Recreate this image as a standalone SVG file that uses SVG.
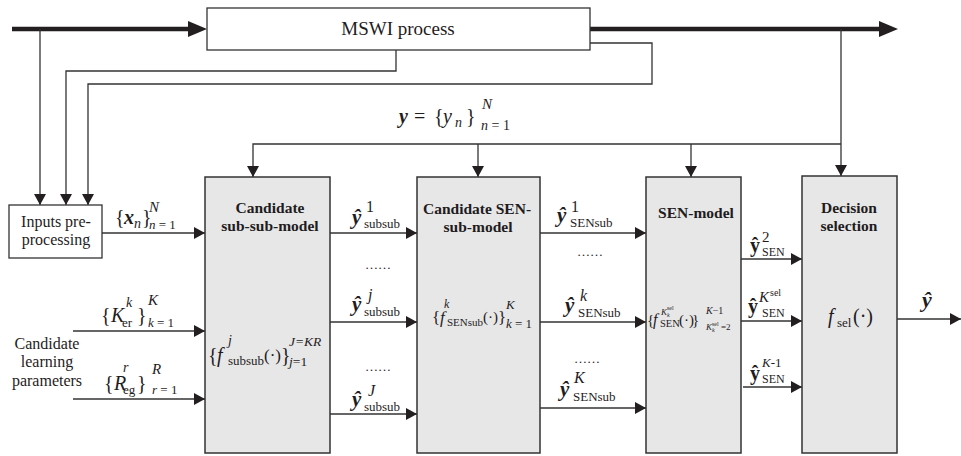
<svg xmlns="http://www.w3.org/2000/svg" width="961" height="456" viewBox="0 0 961 456">
<style>
text{font-family:Liberation Serif,Tinos,Times New Roman,DejaVu Serif,serif;fill:#1f1c1d}
.b{font-weight:bold}
.i{font-style:italic}
.bi{font-weight:bold;font-style:italic}
.ln{fill:none;stroke:#333;stroke-width:1.3}
.thk{fill:none;stroke:#231f20;stroke-width:4.5}
.wbox{fill:#fff;stroke:#333;stroke-width:1.3}
.gbox{fill:#e7e7e8;stroke:#333;stroke-width:1.5}
.ah{fill:#231f20}
</style>
<defs>
<marker id="a" viewBox="0 0 11 12" refX="11" refY="6" markerWidth="11" markerHeight="12" markerUnits="userSpaceOnUse" orient="auto">
<path d="M0,0 L11,6 L0,12 z" fill="#231f20"/>
</marker>
</defs>

<g id="connectors">
<path class="thk" d="M12,29 H192"/>
<polygon class="ah" points="188,21 207,29 188,37"/>
<path class="thk" d="M590,29 H882"/>
<polygon class="ah" points="879,21 898,29 879,37"/>
<path class="ln" d="M40,29 V205" marker-end="url(#a)"/>
<path class="ln" d="M396,50 V71 H66 V205" marker-end="url(#a)"/>
<path class="ln" d="M590,43 H652 V84 H88 V205" marker-end="url(#a)"/>
<path class="ln" d="M841,29 V176" marker-end="url(#a)"/>
<path class="ln" d="M841,144 H253 V177" marker-end="url(#a)"/>
<path class="ln" d="M478,144 V177" marker-end="url(#a)"/>
<path class="ln" d="M691,144 V177" marker-end="url(#a)"/>
<path class="ln" d="M102,233 H205" marker-end="url(#a)"/>
<path class="ln" d="M73,331 H205" marker-end="url(#a)"/>
<path class="ln" d="M73,399 H205" marker-end="url(#a)"/>
<path class="ln" d="M330,233 H417" marker-end="url(#a)"/>
<path class="ln" d="M330,322 H417" marker-end="url(#a)"/>
<path class="ln" d="M330,414 H417" marker-end="url(#a)"/>
<path class="ln" d="M540,233 H646" marker-end="url(#a)"/>
<path class="ln" d="M540,322 H646" marker-end="url(#a)"/>
<path class="ln" d="M540,408 H646" marker-end="url(#a)"/>
<path class="ln" d="M741,259 H802" marker-end="url(#a)"/>
<path class="ln" d="M741,321 H802" marker-end="url(#a)"/>
<path class="ln" d="M743,387 H802" marker-end="url(#a)"/>
<path class="ln" d="M897,319 H961" marker-end="url(#a)"/>
</g>

<g id="mswi">
<rect class="wbox" x="207" y="8" width="383" height="42"/>
<text x="398" y="35" font-size="19" text-anchor="middle">MSWI process</text>
</g>

<g id="inputs">
<rect class="wbox" x="9" y="205" width="93" height="53"/>
<text font-size="16" text-anchor="middle"><tspan x="56" y="227">Inputs pre-</tspan><tspan x="56" y="245">processing</tspan></text>
</g>

<g id="params">
<text font-size="16" text-anchor="middle"><tspan x="47" y="349">Candidate</tspan><tspan x="47" y="367">learning</tspan><tspan x="47" y="386">parameters</tspan></text>
</g>

<g id="subsub">
<rect class="gbox" x="205" y="177" width="125" height="276"/>
<text class="b" font-size="15.5" text-anchor="middle"><tspan x="270" y="213">Candidate</tspan><tspan x="270" y="231">sub-sub-model</tspan></text>
<text font-size="20"><tspan x="208" y="362">{</tspan><tspan x="217" y="362" class="i">f</tspan><tspan x="228" y="345" class="i" font-size="14">j</tspan><tspan x="228" y="365" font-size="13">subsub</tspan><tspan x="264" y="361" font-size="17">(·)</tspan><tspan x="281" y="362">}</tspan><tspan x="289" y="346" class="i" font-size="13.5">J=KR</tspan><tspan x="289" y="366" font-size="13.5"><tspan class="i">j</tspan>=1</tspan></text>
</g>

<g id="sensub">
<rect class="gbox" x="417" y="177" width="123" height="276"/>
<text class="b" font-size="15.5" text-anchor="middle"><tspan x="477" y="214">Candidate SEN-</tspan><tspan x="478" y="232">sub-model</tspan></text>
<text font-size="17"><tspan x="432" y="323">{</tspan><tspan x="440" y="323" class="i">f</tspan><tspan x="444" y="308" class="i" font-size="12">k</tspan><tspan x="447" y="326" font-size="11">SENsub</tspan><tspan x="483" y="322" font-size="15">(·)</tspan><tspan x="498" y="323">}</tspan><tspan x="506" y="309" class="i" font-size="13">K</tspan><tspan x="506" y="328" font-size="13"><tspan class="i">k</tspan> = 1</tspan></text>
</g>

<g id="senmodel">
<rect class="gbox" x="646" y="177" width="95" height="276"/>
<text class="b" font-size="15.5" x="696" y="218" text-anchor="middle">SEN-model</text>
<text font-size="15"><tspan x="647" y="325">{</tspan><tspan x="653" y="325" class="i" font-size="16">f</tspan><tspan x="661" y="315" class="i" font-size="9">K</tspan><tspan x="667" y="317" class="i" font-size="6">k</tspan><tspan x="667" y="310" font-size="6">sel</tspan><tspan x="660" y="327" font-size="10.5">SEN</tspan><tspan x="679" y="325">(·)</tspan><tspan x="692" y="325">}</tspan><tspan x="706" y="314" class="i" font-size="10">K</tspan><tspan font-size="10">−1</tspan><tspan x="706" y="330" class="i" font-size="9">K</tspan><tspan x="712" y="332" class="i" font-size="6">k</tspan><tspan x="712" y="326" font-size="6">sel</tspan><tspan x="721" y="330" font-size="9">=2</tspan></text>
</g>

<g id="decision">
<rect class="gbox" x="802" y="176" width="95" height="277"/>
<text class="b" font-size="15.5" text-anchor="middle"><tspan x="849" y="213">Decision</tspan><tspan x="849" y="231">selection</tspan></text>
<text font-size="20"><tspan x="828" y="323" class="i">f</tspan><tspan x="837" y="327" font-size="13">sel</tspan><tspan x="853" y="323">(·)</tspan></text>
</g>

<g id="labels">
<text font-size="20"><tspan x="399" y="123" class="bi">y</tspan><tspan x="414" y="123">=</tspan><tspan x="434" y="123">{</tspan><tspan x="443" y="123" class="i">y</tspan><tspan x="455" y="127" class="i" font-size="14">n</tspan><tspan x="466" y="123">}</tspan><tspan x="482" y="109" class="i" font-size="15">N</tspan><tspan x="481" y="130" font-size="14"><tspan class="i">n</tspan> = 1</tspan></text>

<text font-size="20"><tspan x="115" y="224">{</tspan><tspan x="124" y="224" class="bi">x</tspan><tspan x="134" y="228" class="i" font-size="14">n</tspan><tspan x="142" y="224">}</tspan><tspan x="149" y="212" class="i" font-size="15">N</tspan><tspan x="149" y="229" font-size="13"><tspan class="i">n</tspan> = 1</tspan></text>

<text font-size="20"><tspan x="101" y="322">{</tspan><tspan x="111" y="322" class="i">K</tspan><tspan x="126" y="307" class="i" font-size="14">k</tspan><tspan x="122" y="327" font-size="13">er</tspan><tspan x="137" y="322">}</tspan><tspan x="148" y="305" class="i" font-size="15">K</tspan><tspan x="148" y="327" font-size="13"><tspan class="i">k</tspan> = 1</tspan></text>

<text font-size="20"><tspan x="104" y="390">{</tspan><tspan x="114" y="390" class="i">R</tspan><tspan x="123" y="372" class="i" font-size="14">r</tspan><tspan x="123" y="394" font-size="13">eg</tspan><tspan x="137" y="390">}</tspan><tspan x="152" y="374" class="i" font-size="15">R</tspan><tspan x="152" y="394" font-size="13"><tspan class="i">r</tspan> = 1</tspan></text>

<text font-size="21"><tspan x="352" y="224" class="bi">ŷ</tspan><tspan x="366" y="212" font-size="16">1</tspan><tspan x="364" y="228" font-size="13">subsub</tspan></text>
<text font-size="13" x="365" y="269">……</text>
<text font-size="21"><tspan x="352" y="311" class="bi">ŷ</tspan><tspan x="368" y="300" class="i" font-size="16">j</tspan><tspan x="364" y="316" font-size="13">subsub</tspan></text>
<text font-size="13" x="365" y="371">……</text>
<text font-size="21"><tspan x="352" y="406" class="bi">ŷ</tspan><tspan x="368" y="396" class="i" font-size="16">J</tspan><tspan x="364" y="411" font-size="13">subsub</tspan></text>

<text font-size="21"><tspan x="557" y="222" class="bi">ŷ</tspan><tspan x="571" y="212" font-size="16">1</tspan><tspan x="570" y="227" font-size="13">SENsub</tspan></text>
<text font-size="13" x="577" y="256">……</text>
<text font-size="21"><tspan x="565" y="312" class="bi">ŷ</tspan><tspan x="580" y="301" class="i" font-size="16">k</tspan><tspan x="578" y="317" font-size="13">SENsub</tspan></text>
<text font-size="13" x="574" y="363">……</text>
<text font-size="21"><tspan x="560" y="396" class="bi">ŷ</tspan><tspan x="574" y="383" class="i" font-size="16">K</tspan><tspan x="573" y="401" font-size="13">SENsub</tspan></text>

<text font-size="20"><tspan x="750" y="252" class="b">ŷ</tspan><tspan x="762" y="242" font-size="15">2</tspan><tspan x="762" y="256" font-size="12">SEN</tspan></text>
<text font-size="20"><tspan x="748" y="313" class="b">ŷ</tspan><tspan x="759" y="302" class="i" font-size="15">K</tspan><tspan x="770" y="296" font-size="10">sel</tspan><tspan x="762" y="317" font-size="12">SEN</tspan></text>
<text font-size="20"><tspan x="750" y="380" class="b">ŷ</tspan><tspan x="762" y="367" font-size="13"><tspan class="i">K</tspan>-1</tspan><tspan x="762" y="383" font-size="12">SEN</tspan></text>

<text class="bi" font-size="22" x="922" y="307">ŷ</text>
</g>
</svg>
